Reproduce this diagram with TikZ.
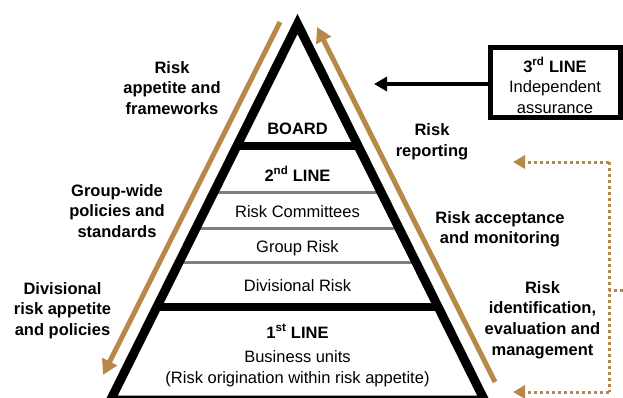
\documentclass[tikz,border=0pt]{standalone}
\usepackage{fontspec}
\setmainfont{Liberation Sans}
\usetikzlibrary{arrows.meta,calc}
\definecolor{riskgold}{RGB}{184,135,74}
\definecolor{tiergray}{RGB}{128,128,128}
\begin{document}
\begin{tikzpicture}[x=1pt,y=-1pt,
  txt/.style={align=center, inner sep=0pt, anchor=base, font=\fontsize{16.5}{20.7}\selectfont},
  lbl/.style={txt, font=\bfseries\fontsize{16.5}{20.7}\selectfont},
  pyr/.style={line width=9pt, line join=miter},
  blackbar/.style={line width=8.5pt},
  graybar/.style={line width=3pt, draw=tiergray},
  goldarrow/.style={draw=riskgold, line width=5pt, -{Triangle[length=15pt,width=16pt]}, riskgold},
  dotline/.style={draw=riskgold, line width=3pt, dash pattern=on 3pt off 3pt},
  dottip/.style={-{Triangle[length=12pt,width=13pt]}, riskgold},
  blackarrow/.style={line width=4.5pt, -{Triangle[length=13pt,width=14pt]}},
  boxstyle/.style={draw, line width=5pt, minimum width=130pt, minimum height=70pt, inner sep=0pt}
]
\useasboundingbox (0,0) rectangle (623,397);
% pyramid corners
\coordinate (A) at (297.5,24);
\coordinate (L) at (110.6,400);
\coordinate (R) at (484.4,400);
% gray tier lines
\draw[graybar] ($(A)!0.4468!(L)$) coordinate (g1l) -- ($(A)!0.4468!(R)$) coordinate (g1r);
\draw[graybar] ($(A)!0.5426!(L)$) coordinate (g2l) -- ($(A)!0.5426!(R)$) coordinate (g2r);
\draw[graybar] ($(A)!0.6356!(L)$) coordinate (g3l) -- ($(A)!0.6356!(R)$) coordinate (g3r);
% black tier lines
\draw[blackbar] ($(A)!0.3245!(L)$) coordinate (b1l) -- ($(A)!0.3245!(R)$) coordinate (b1r);
\draw[blackbar] ($(A)!0.7527!(L)$) coordinate (b2l) -- ($(A)!0.7527!(R)$) coordinate (b2r);
% outline
\draw[pyr] (A) -- (L) -- (R) -- cycle;
% pyramid texts (anchor base = baseline of last line)
\node[lbl] (board) at (297.5,134) {BOARD};
\node[lbl] (second) at (297.5,181) {2\textsuperscript{nd} LINE};
\node[txt] (committees) at (297.5,217) {Risk Committees};
\node[txt] (grouprisk) at (297.5,252) {Group Risk};
\node[txt] (divrisk) at (297.5,291) {Divisional Risk};
\node[lbl] (first) at (297.5,338) {1\textsuperscript{st} LINE};
\node[txt] (bu) at (297.5,383) {Business units\\(Risk origination within risk appetite)};
% left labels
\node[lbl] (appetite) at (172,114.4) {Risk\\appetite and\\frameworks};
\node[lbl] (groupwide) at (117,237.4) {Group-wide\\policies and\\standards};
\node[lbl] (divisional) at (62.5,335.4) {Divisional\\risk appetite\\and policies};
% right labels
\node[lbl] (reporting) at (432,156.5) {Risk\\reporting};
\node[lbl] (acceptance) at (500,243.7) {Risk acceptance\\and monitoring};
\node[lbl] (identification) at (542.5,355.1) {Risk\\identification,\\evaluation and\\management};
% third line box
\node[boxstyle] (third) at (555,82.5) {};
\node[lbl] (thirdtxt) at (555,113.4) {3\textsuperscript{rd} LINE\\\mdseries Independent\\\mdseries assurance};
\coordinate (thirdtip) at (374,84);
\draw[blackarrow] (third.west |- thirdtip) -- (thirdtip);
% gold arrows
\coordinate (ltop) at (280,22);
\coordinate (lbot) at (103,375);
\draw[goldarrow] (ltop) -- (lbot);
\coordinate (rbot) at (495,382);
\coordinate (rtop) at (317,27);
\draw[goldarrow] (rbot) -- (rtop);
% dotted bracket
\coordinate (dstart) at (623,290);
\coordinate (dmid) at (609,290);
\coordinate (dtop) at (609,162);
\coordinate (dbot) at (609,392);
\coordinate (dtoptip) at (513,162);
\coordinate (dbottip) at (513,392);
\draw[dotline] (dstart) -- (dmid);
\draw[dotline] (dtop) -- (dbot);
\draw[dotline, dottip] (dtop) -- (dtoptip);
\draw[dotline, dottip] (dbot) -- (dbottip);
\end{tikzpicture}
\end{document}
